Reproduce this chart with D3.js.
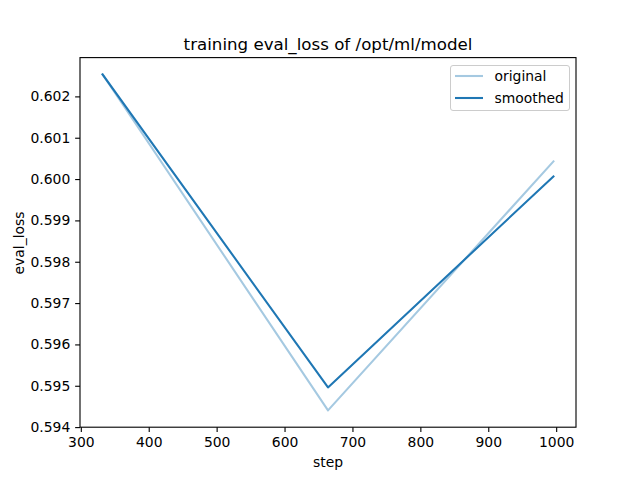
<!DOCTYPE html>
<html>
<head>
<meta charset="utf-8">
<script src="https://cdn.jsdelivr.net/npm/d3@7"></script>
<style>
body{margin:0;background:#fff;}
text{font-family:"DejaVu Sans",sans-serif;fill:#000;}
</style>
</head>
<body>
<script>
const steps = [332, 664, 996];
const original = [0.602532, 0.594404, 0.600427];
const smoothed = [0.602532, 0.594960, 0.600065];
const xTicks = [300, 400, 500, 600, 700, 800, 900, 1000];
const yTicks = [0.594, 0.595, 0.596, 0.597, 0.598, 0.599, 0.600, 0.601, 0.602];
const seriesNames = ["original", "smoothed"];

const W = 640, H = 480;
const L = 80, R = 576, T = 57.6, B = 427.2;
const svg = d3.select("body").append("svg").attr("width", W).attr("height", H);

function pad(ext){ const s = ext[1]-ext[0]; return [ext[0]-0.05*s, ext[1]+0.05*s]; }
const x = d3.scaleLinear().domain(pad(d3.extent(steps))).range([L, R]);
const allY = original.concat(smoothed);
const y = d3.scaleLinear().domain(pad(d3.extent(allY))).range([B, T]);

const fs = 13.9, tickLen = 4.86;

// lines
const line = d3.line().x((d,i)=>x(steps[i])).y(d=>y(d));
svg.append("path").datum(original).attr("d", line).attr("fill","none")
  .attr("stroke","#1f77b4").attr("stroke-opacity",0.4).attr("stroke-width",2.08)
  .attr("stroke-linejoin","round").attr("stroke-linecap","square");
svg.append("path").datum(smoothed).attr("d", line).attr("fill","none")
  .attr("stroke","#1f77b4").attr("stroke-width",2.08)
  .attr("stroke-linejoin","round").attr("stroke-linecap","square");

// axes
const xAxis = d3.axisBottom(x).tickValues(xTicks).tickFormat(d3.format("d")).tickSizeInner(tickLen).tickSizeOuter(0).tickPadding(4.86);
const gx = svg.append("g").attr("transform",`translate(0,${B})`).call(xAxis);
const yAxis = d3.axisLeft(y).tickValues(yTicks).tickFormat(d3.format(".3f")).tickSizeInner(tickLen).tickSizeOuter(0).tickPadding(4.86);
const gy = svg.append("g").attr("transform",`translate(${L},0)`).call(yAxis);
[gx, gy].forEach(g=>{
  g.select(".domain").remove();
  g.selectAll(".tick line").attr("stroke","#000").attr("stroke-width",1.11);
  g.selectAll(".tick text").attr("font-size",fs).attr("font-family","DejaVu Sans").attr("fill","#000");
});
gx.selectAll(".tick text").attr("dy","0.71em");

// frame
svg.append("rect").attr("x",L).attr("y",T).attr("width",R-L).attr("height",B-T)
  .attr("fill","none").attr("stroke","#000").attr("stroke-width",1.11);

// labels
svg.append("text").attr("x",(L+R)/2).attr("y",49.5).attr("text-anchor","middle")
  .attr("font-size",16.67).text("training eval_loss of /opt/ml/model");
svg.append("text").attr("x",(L+R)/2).attr("y",467).attr("text-anchor","middle")
  .attr("font-size",fs).text("step");
svg.append("text").attr("transform","translate(23.5,243) rotate(-90)").attr("text-anchor","middle")
  .attr("font-size",fs).text("eval_loss");

// legend
const lg = svg.append("g");
lg.append("rect").attr("x",450.5).attr("y",65.5).attr("width",119).attr("height",45).attr("rx",2.5)
  .attr("fill","#fff").attr("fill-opacity",0.8).attr("stroke","#ccc").attr("stroke-width",1);
seriesNames.forEach((n,i)=>{
  const yy = 76 + i*22;
  lg.append("line").attr("x1",455).attr("x2",483).attr("y1",yy).attr("y2",yy)
    .attr("stroke","#1f77b4").attr("stroke-opacity", i===0?0.4:1).attr("stroke-width",2.08);
  lg.append("text").attr("x",494.5).attr("y",yy+5).attr("font-size",fs).text(n);
});
</script>
</body>
</html>
